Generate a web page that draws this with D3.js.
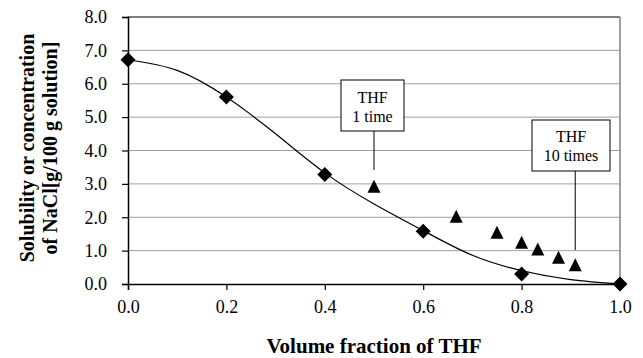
<!DOCTYPE html>
<html>
<head>
<meta charset="utf-8">
<script src="https://cdn.jsdelivr.net/npm/d3@7"></script>
<style>
  body { margin: 0; background: #fff; }
  svg { display: block; font-family: "Liberation Serif", "Times New Roman", serif; }
</style>
</head>
<body>
<div id="chart"></div>
<script>
// measured solubility (diamonds)
var solX = [0.0, 0.2, 0.4, 0.6, 0.8, 1.0];
var solY = [6.72, 5.6, 3.28, 1.58, 0.3, 0.0];
// NaCl concentration after repeated THF addition (triangles)
var concX = [0.5, 0.667, 0.75, 0.8, 0.833, 0.875, 0.909];
var concY = [2.9, 2.0, 1.52, 1.22, 1.02, 0.77, 0.55];
// fitted curve
var fitX = [0.0, 0.1, 0.2, 0.3, 0.4, 0.5, 0.6, 0.7, 0.8, 0.9, 1.0];
var fitY = [6.72, 6.4, 5.6, 4.5, 3.33, 2.4, 1.6, 0.86, 0.4, 0.13, 0.0];
var xTicks = [0.0, 0.2, 0.4, 0.6, 0.8, 1.0];
var yTicks = [0, 1, 2, 3, 4, 5, 6, 7, 8];
var notes = [
  {lines: ["THF", "1 time"], x: 0.5, y: 2.9},
  {lines: ["THF", "10 times"], x: 0.909, y: 0.55}
];

var W = 643, H = 358;
var pLeft = 128, pRight = 620, pTop = 17, pBottom = 284;

var svg = d3.select("#chart").append("svg")
  .attr("width", W)
  .attr("height", H);

var x = d3.scaleLinear().domain([0, 1]).range([pLeft, pRight]);
var y = d3.scaleLinear().domain([0, 8]).range([pBottom, pTop]);

// gridlines
svg.append("g").selectAll("line")
  .data(yTicks.filter(function(d){ return d > 0 && d < 8; }))
  .enter().append("line")
  .attr("x1", pLeft).attr("x2", pRight)
  .attr("y1", function(d){ return y(d); })
  .attr("y2", function(d){ return y(d); })
  .attr("stroke", "#a0a0a0")
  .attr("stroke-width", 1);

// plot border: black top, grey right
svg.append("line")
  .attr("x1", pLeft).attr("x2", pRight)
  .attr("y1", y(8)).attr("y2", y(8))
  .attr("stroke", "#000").attr("stroke-width", 1.2);
svg.append("line")
  .attr("x1", pRight).attr("x2", pRight)
  .attr("y1", y(8)).attr("y2", y(0))
  .attr("stroke", "#808080").attr("stroke-width", 1.5);

// axes
var yAxis = svg.append("g")
  .attr("transform", "translate(" + pLeft + ",0)")
  .call(d3.axisLeft(y).tickValues(yTicks).tickSize(6).tickPadding(15)
    .tickFormat(d3.format(".1f")));
var xAxis = svg.append("g")
  .attr("transform", "translate(0," + pBottom + ")")
  .call(d3.axisBottom(x).tickValues(xTicks).tickSize(6).tickPadding(10)
    .tickFormat(d3.format(".1f")));

[yAxis, xAxis].forEach(function(a){
  a.select(".domain").attr("stroke", "#000").attr("stroke-width", 1.5);
  a.selectAll(".tick line").attr("stroke", "#000").attr("stroke-width", 1.2);
  a.selectAll(".tick text")
    .attr("fill", "#000")
    .style("font-family", "'Liberation Serif', serif")
    .style("font-size", "18px");
});

// fitted curve
var line = d3.line()
  .x(function(d, i){ return x(fitX[i]); })
  .y(function(d){ return y(d); })
  .curve(d3.curveNatural);
svg.append("path")
  .attr("d", line(fitY))
  .attr("fill", "none")
  .attr("stroke", "#000")
  .attr("stroke-width", 1.2);

// annotation boxes with leader lines
var noteBoxes = [
  {x0: 341, x1: 404, y0: 80, y1: 131, lineEnd: 170, base: [103, 122]},
  {x0: 532, x1: 610, y0: 120, y1: 171, lineEnd: 250, base: [142, 161]}
];
notes.forEach(function(n, i){
  var b = noteBoxes[i];
  var g = svg.append("g");
  g.append("line")
    .attr("x1", x(n.x)).attr("x2", x(n.x))
    .attr("y1", b.y1).attr("y2", b.lineEnd)
    .attr("stroke", "#000").attr("stroke-width", 1);
  g.append("rect")
    .attr("x", b.x0).attr("y", b.y0)
    .attr("width", b.x1 - b.x0).attr("height", b.y1 - b.y0)
    .attr("fill", "#fff")
    .attr("stroke", "#000").attr("stroke-width", 1);
  g.selectAll("text").data(n.lines).enter().append("text")
    .attr("x", (b.x0 + b.x1) / 2)
    .attr("y", function(d, j){ return b.base[j]; })
    .attr("text-anchor", "middle")
    .style("font-size", "16px")
    .text(function(d){ return d; });
});

// diamonds
svg.append("g").selectAll("path")
  .data(solY)
  .enter().append("path")
  .attr("d", "M0,-7.5L7.5,0L0,7.5L-7.5,0Z")
  .attr("transform", function(d, i){ return "translate(" + x(solX[i]) + "," + y(d) + ")"; })
  .attr("fill", "#000");

// triangles
svg.append("g").selectAll("path")
  .data(concY)
  .enter().append("path")
  .attr("d", "M0,-7.5L6.5,5.5L-6.5,5.5Z")
  .attr("transform", function(d, i){ return "translate(" + x(concX[i]) + "," + y(d) + ")"; })
  .attr("fill", "#000");

// axis titles
svg.append("text")
  .attr("x", 374)
  .attr("y", 353)
  .attr("text-anchor", "middle")
  .style("font-size", "21px")
  .style("font-weight", "bold")
  .text("Volume fraction of THF");

var yTitle = svg.append("text")
  .attr("transform", "translate(0,148) rotate(-90)")
  .attr("text-anchor", "middle")
  .style("font-size", "20px")
  .style("font-weight", "bold");
yTitle.append("tspan").attr("x", 0).attr("y", 34).text("Solubility or concentration");
yTitle.append("tspan").attr("x", 0).attr("y", 57).text("of NaCl[g/100 g solution]");
</script>
</body>
</html>
